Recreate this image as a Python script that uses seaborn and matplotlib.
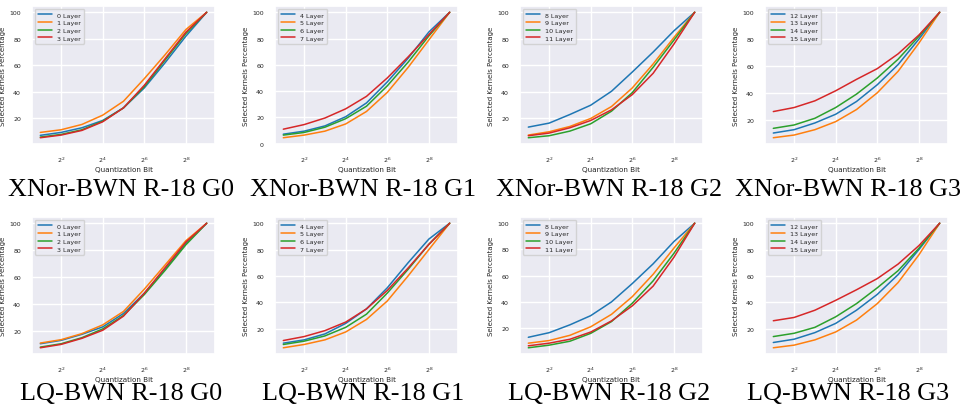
import numpy as np
import pandas as pd
import matplotlib
matplotlib.use("Agg")
import matplotlib.pyplot as plt
import matplotlib.ticker as mticker
import seaborn as sns

# Quantization bits tested: 2^1 ... 2^9
bits = [2, 4, 8, 16, 32, 64, 128, 256, 512]

# XNor-BWN ResNet-18, selected kernel percentage per layer group
xnor_g0 = {
    "0 Layer": [7.3, 9.5, 13.0, 18.5, 28.0, 43.0, 62.0, 82.0, 100.0],
    "1 Layer": [9.5, 11.5, 15.5, 22.5, 33.0, 50.0, 68.0, 87.0, 100.0],
    "2 Layer": [6.0, 8.0, 11.5, 18.0, 28.0, 44.0, 64.0, 84.0, 100.0],
    "3 Layer": [5.5, 7.5, 11.0, 17.5, 28.0, 45.0, 65.0, 85.0, 100.0],
}
xnor_g1 = {
    "4 Layer": [7.2, 9.5, 13.5, 20.5, 31.0, 47.0, 65.0, 85.0, 100.0],
    "5 Layer": [4.5, 6.5, 9.5, 15.0, 24.5, 39.0, 58.0, 79.0, 100.0],
    "6 Layer": [6.5, 8.5, 12.5, 19.0, 28.5, 44.0, 62.0, 82.0, 100.0],
    "7 Layer": [11.0, 14.5, 19.5, 26.5, 36.0, 50.0, 66.0, 83.0, 100.0],
}
xnor_g2 = {
    "8 Layer": [13.5, 16.5, 23.0, 30.0, 40.5, 55.0, 70.0, 86.0, 100.0],
    "9 Layer": [7.5, 10.0, 14.0, 20.0, 29.0, 43.0, 61.0, 81.0, 100.0],
    "10 Layer": [5.5, 7.0, 10.5, 16.0, 25.5, 39.5, 58.5, 79.0, 100.0],
    "11 Layer": [7.0, 9.0, 13.0, 18.5, 26.5, 38.0, 54.0, 76.0, 100.0],
}
xnor_g3 = {
    "12 Layer": [10.0, 12.5, 17.5, 24.0, 33.5, 46.0, 61.0, 80.0, 100.0],
    "13 Layer": [6.5, 8.5, 12.5, 18.5, 27.5, 40.0, 56.0, 77.0, 100.0],
    "14 Layer": [13.5, 16.0, 21.0, 29.0, 39.0, 51.0, 65.0, 82.0, 100.0],
    "15 Layer": [26.0, 29.0, 34.0, 41.5, 50.0, 58.0, 69.0, 83.0, 100.0],
}

# LQ-BWN ResNet-18
lq_g0 = {
    "0 Layer": [10.5, 13.0, 17.5, 23.0, 33.0, 48.0, 66.0, 85.0, 100.0],
    "1 Layer": [11.0, 13.5, 18.0, 24.5, 34.5, 51.0, 69.0, 87.0, 100.0],
    "2 Layer": [8.0, 10.5, 15.0, 21.5, 31.5, 47.0, 65.0, 84.0, 100.0],
    "3 Layer": [7.5, 10.0, 14.5, 20.5, 31.0, 48.0, 67.0, 86.0, 100.0],
}
lq_g1 = {
    "4 Layer": [9.0, 11.5, 16.0, 24.0, 35.0, 51.0, 70.0, 88.0, 100.0],
    "5 Layer": [5.5, 8.0, 11.5, 17.5, 27.0, 41.0, 60.0, 80.0, 100.0],
    "6 Layer": [8.0, 10.5, 14.5, 21.0, 31.0, 47.0, 65.0, 84.0, 100.0],
    "7 Layer": [11.0, 14.0, 18.5, 25.0, 35.0, 49.0, 66.0, 84.0, 100.0],
}
lq_g2 = {
    "8 Layer": [13.0, 16.5, 22.5, 29.5, 40.0, 54.0, 69.0, 86.0, 100.0],
    "9 Layer": [8.5, 10.5, 14.5, 21.0, 30.5, 44.0, 61.0, 81.0, 100.0],
    "10 Layer": [5.0, 7.0, 10.0, 16.0, 25.0, 39.0, 56.0, 77.0, 100.0],
    "11 Layer": [6.5, 8.5, 11.5, 17.0, 25.5, 37.0, 52.0, 74.0, 100.0],
}
lq_g3 = {
    "12 Layer": [9.5, 12.0, 17.0, 24.0, 34.0, 46.0, 61.0, 80.0, 100.0],
    "13 Layer": [5.5, 7.5, 11.5, 17.5, 26.5, 39.0, 55.0, 76.0, 100.0],
    "14 Layer": [14.0, 16.5, 21.0, 29.0, 39.0, 51.0, 64.0, 81.0, 100.0],
    "15 Layer": [26.0, 28.5, 34.0, 41.5, 49.5, 58.0, 69.0, 83.0, 100.0],
}

panels = [
    ("XNor-BWN R-18 G0", xnor_g0), ("XNor-BWN R-18 G1", xnor_g1),
    ("XNor-BWN R-18 G2", xnor_g2), ("XNor-BWN R-18 G3", xnor_g3),
    ("LQ-BWN R-18 G0", lq_g0), ("LQ-BWN R-18 G1", lq_g1),
    ("LQ-BWN R-18 G2", lq_g2), ("LQ-BWN R-18 G3", lq_g3),
]

sns.set_theme(style="darkgrid")

W, H = 967, 406
fig = plt.figure(figsize=(W / 100, H / 100), dpi=100)

lefts = [32, 275, 520, 765]
title_cx = [121, 363, 609, 848]
rows = [(7, 145, 196), (218, 355, 400)]   # axes top, axes bottom, caption baseline (px)
ax_w = 183

for i, (caption, series) in enumerate(panels):
    r, c = divmod(i, 4)
    top, bottom, base = rows[r]
    ax = fig.add_axes([lefts[c] / W, 1 - bottom / H, ax_w / W, (bottom - top) / H])

    df = pd.DataFrame(
        [(b, name, v) for name, vals in series.items() for b, v in zip(bits, vals)],
        columns=["bit", "layer", "pct"],
    )
    sns.lineplot(data=df, x="bit", y="pct", hue="layer", ax=ax,
                 palette="tab10", linewidth=1.1)

    ax.set_xscale("log", base=2)
    ax.xaxis.set_major_locator(mticker.FixedLocator([4, 16, 64, 256]))
    ax.xaxis.set_major_formatter(mticker.LogFormatterMathtext(base=2))
    ax.xaxis.set_minor_locator(mticker.NullLocator())
    ax.yaxis.set_major_locator(mticker.MultipleLocator(20))
    ax.tick_params(labelsize=4.5, pad=2)
    ax.set_xlabel("Quantization Bit", fontsize=5.2, labelpad=1)
    ax.set_ylabel("Selected Kernels Percentage", fontsize=5.0, labelpad=2)

    leg = ax.legend(loc="upper left", fontsize=4.6, frameon=True,
                    handlelength=2.2, borderpad=0.45, labelspacing=0.35)
    for line in leg.get_lines():
        line.set_linewidth(1.1)

    fig.text(title_cx[c] / W, 1 - base / H, caption, ha="center", va="baseline",
             fontsize=18.8, family="Liberation Serif", color="black")

fig.savefig("out.png", dpi=100)
